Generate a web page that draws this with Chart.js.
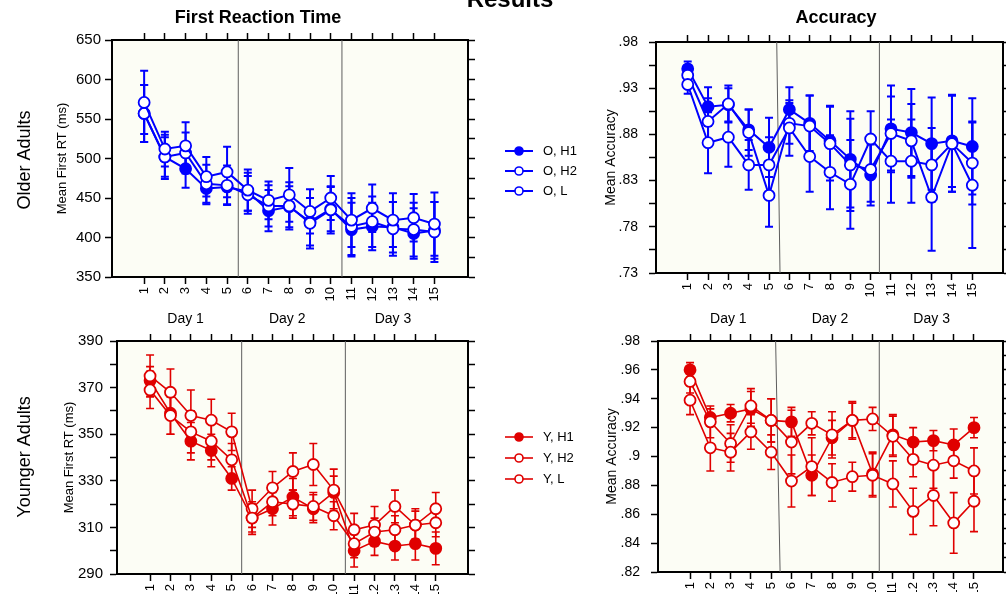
<!DOCTYPE html>
<html>
<head>
<meta charset="utf-8">
<script src="https://cdn.jsdelivr.net/npm/chart.js@4.4.1/dist/chart.umd.min.js"></script>
<style>
  html, body { margin: 0; padding: 0; background: #fff; overflow: hidden; }
  #wrap { position: relative; width: 1006px; height: 597px; }
  #wrap canvas { position: absolute; left: 0; top: 0; }
</style>
</head>
<body>
<div id="wrap">
  <canvas id="olderRt" width="1006" height="597"></canvas>
  <canvas id="olderAcc" width="1006" height="597"></canvas>
  <canvas id="youngerRt" width="1006" height="597"></canvas>
  <canvas id="youngerAcc" width="1006" height="597"></canvas>
</div>
<script>
/* ---- data ---- */
const sessions = [1, 2, 3, 4, 5, 6, 7, 8, 9, 10, 11, 12, 13, 14, 15];
const days = ['Day 1', 'Day 2', 'Day 3'];
const olderLabels = ['O, H1', 'O, H2', 'O, L'];
const youngerLabels = ['Y, H1', 'Y, H2', 'Y, L'];

// y-axis labelled ticks
const oRtTicks = [350, 400, 450, 500, 550, 600, 650];
const oAccTicks = [0.73, 0.78, 0.83, 0.88, 0.93, 0.98];
const yRtTicks = [290, 310, 330, 350, 370, 390];
const yAccTicks = [0.82, 0.84, 0.86, 0.88, 0.90, 0.92, 0.94, 0.96, 0.98];

// older adults, first RT (ms)
const oRtH1 = [557, 502, 487, 462, 464, 458, 434, 439, 420, 436, 410, 414, 413, 405, 409];
const oRtH2 = [557, 502, 507, 468, 466, 454, 440, 440, 418, 435, 414, 420, 411, 410, 407];
const oRtL = [571, 512, 516, 477, 483, 460, 447, 454, 433, 450, 422, 437, 422, 425, 417];
const oRtH1Err = [36, 25, 24, 20, 22, 24, 26, 26, 30, 28, 34, 30, 32, 32, 36];
const oRtH2Err = [36, 28, 26, 24, 25, 24, 26, 30, 32, 30, 36, 32, 34, 34, 38];
const oRtLErr = [40, 22, 30, 25, 32, 26, 24, 34, 28, 28, 34, 30, 34, 30, 40];

// older adults, accuracy
const oAccH1 = [0.951, 0.910, 0.912, 0.885, 0.866, 0.907, 0.892, 0.873, 0.853, 0.836, 0.886, 0.882, 0.870, 0.873, 0.867];
const oAccH2 = [0.944, 0.894, 0.913, 0.882, 0.814, 0.892, 0.889, 0.870, 0.847, 0.842, 0.881, 0.873, 0.812, 0.870, 0.849];
const oAccL = [0.934, 0.871, 0.877, 0.847, 0.847, 0.887, 0.856, 0.839, 0.826, 0.875, 0.851, 0.851, 0.847, 0.870, 0.825];
const oAccH1Err = [0.008, 0.021, 0.018, 0.022, 0.032, 0.024, 0.030, 0.038, 0.052, 0.033, 0.047, 0.047, 0.050, 0.050, 0.052];
const oAccH2Err = [0.010, 0.025, 0.020, 0.025, 0.034, 0.022, 0.033, 0.040, 0.050, 0.035, 0.040, 0.040, 0.058, 0.052, 0.045];
const oAccLErr = [0.010, 0.033, 0.032, 0.027, 0.030, 0.030, 0.038, 0.040, 0.048, 0.030, 0.045, 0.045, 0.040, 0.052, 0.068];

// younger adults, first RT (ms)
const yRtH1 = [373, 359, 347, 343, 331, 314, 318, 323, 318, 325, 300, 304, 302, 303, 301];
const yRtH2 = [375, 368, 358, 356, 351, 318, 327, 334, 337, 326, 309, 311, 319, 311, 318];
const yRtL = [369, 358, 351, 347, 339, 314, 321, 320, 319, 315, 303, 308, 309, 311, 312];
const yRtH1Err = [6, 9, 8, 7, 5, 7, 7, 8, 6, 7, 7, 6, 6, 7, 7];
const yRtH2Err = [9, 10, 11, 9, 8, 8, 7, 8, 9, 9, 7, 8, 7, 7, 7];
const yRtLErr = [8, 8, 9, 8, 7, 6, 6, 6, 6, 6, 6, 6, 6, 6, 6];

// younger adults, accuracy
const yAccH1 = [0.960, 0.927, 0.930, 0.933, 0.925, 0.924, 0.887, 0.913, 0.925, 0.888, 0.915, 0.910, 0.911, 0.908, 0.920];
const yAccH2 = [0.952, 0.924, 0.909, 0.935, 0.925, 0.910, 0.923, 0.915, 0.925, 0.926, 0.914, 0.898, 0.894, 0.897, 0.890];
const yAccL = [0.939, 0.906, 0.903, 0.917, 0.903, 0.883, 0.893, 0.882, 0.886, 0.887, 0.881, 0.862, 0.873, 0.854, 0.869];
const yAccH1Err = [0.005, 0.006, 0.006, 0.012, 0.015, 0.010, 0.014, 0.012, 0.012, 0.015, 0.014, 0.010, 0.007, 0.011, 0.007];
const yAccH2Err = [0.008, 0.011, 0.013, 0.012, 0.015, 0.022, 0.008, 0.016, 0.013, 0.008, 0.014, 0.012, 0.016, 0.012, 0.016];
const yAccLErr = [0.010, 0.016, 0.013, 0.012, 0.012, 0.018, 0.020, 0.013, 0.010, 0.015, 0.016, 0.016, 0.021, 0.021, 0.021];

/* ---- look ---- */
const FONT = '"Liberation Sans", Arial, Helvetica, sans-serif';
const BLUE = '#0000ff';
const RED = '#e00000';
const PLOT_BG = '#fcfdf5';
Chart.defaults.font.family = FONT;
Chart.defaults.color = '#000';

const fmtRt = v => String(v);
const fmtAcc = v => String(+v.toFixed(2)).replace(/^0/, '');

// labelled ticks plus an unlabelled one half way between each pair
function withMinor(majors) {
  const all = [];
  majors.forEach((v, i) => {
    all.push(v);
    if (i < majors.length - 1) all.push(+((v + majors[i + 1]) / 2).toFixed(4));
  });
  return all;
}

/* ---- plugins ---- */
const plotBg = {
  id: 'plotBg',
  beforeDraw(chart) {
    const { ctx, chartArea: a } = chart;
    ctx.save();
    ctx.fillStyle = PLOT_BG;
    ctx.fillRect(a.left, a.top, a.width, a.height);
    ctx.restore();
  }
};

const dividers = {
  id: 'dividers',
  beforeDatasetsDraw(chart, args, opts) {
    if (!opts.lines) return;
    const { ctx, chartArea: a, scales: { x } } = chart;
    ctx.save();
    ctx.strokeStyle = '#5e5e5e';
    ctx.lineWidth = 1;
    opts.lines.forEach(([top, bottom]) => {
      ctx.beginPath();
      ctx.moveTo(x.getPixelForValue(top), a.top);
      ctx.lineTo(x.getPixelForValue(bottom), a.bottom);
      ctx.stroke();
    });
    ctx.restore();
  }
};

const errorBars = {
  id: 'errorBars',
  beforeDatasetsDraw(chart) {
    const { ctx, scales: { x, y } } = chart;
    chart.data.datasets.forEach(ds => {
      ctx.save();
      ctx.strokeStyle = ds.borderColor;
      ctx.lineWidth = ds.borderWidth;
      ds.data.forEach((p, i) => {
        const px = x.getPixelForValue(p.x);
        const top = y.getPixelForValue(p.y + ds.errors[i]);
        const bot = y.getPixelForValue(p.y - ds.errors[i]);
        ctx.beginPath();
        ctx.moveTo(px, top); ctx.lineTo(px, bot);
        ctx.moveTo(px - 4, top); ctx.lineTo(px + 4, top);
        ctx.moveTo(px - 4, bot); ctx.lineTo(px + 4, bot);
        ctx.stroke();
      });
      ctx.restore();
    });
  }
};

const dayLabels = {
  id: 'dayLabels',
  afterDraw(chart, args, opts) {
    if (!opts.at) return;
    const { ctx, scales: { x } } = chart;
    ctx.save();
    ctx.font = '14px ' + FONT;
    ctx.fillStyle = '#000';
    ctx.textAlign = 'center';
    ctx.textBaseline = 'middle';
    days.forEach((d, i) => ctx.fillText(d, x.getPixelForValue(opts.at[i]), opts.y));
    ctx.restore();
  }
};

const sideLegend = {
  id: 'sideLegend',
  afterDraw(chart, args, opts) {
    if (!opts.x) return;
    const { ctx } = chart;
    ctx.save();
    chart.data.datasets.forEach((ds, i) => {
      const y = opts.y + i * opts.gap;
      ctx.strokeStyle = ds.borderColor;
      ctx.lineWidth = ds.borderWidth;
      ctx.beginPath();
      ctx.moveTo(opts.x, y); ctx.lineTo(opts.x + 28, y);
      ctx.stroke();
      ctx.beginPath();
      ctx.arc(opts.x + 14, y, 4, 0, Math.PI * 2);
      ctx.fillStyle = ds.pointBackgroundColor;
      ctx.fill();
      ctx.lineWidth = 1.6;
      ctx.stroke();
      ctx.fillStyle = '#000';
      ctx.font = '13px ' + FONT;
      ctx.textAlign = 'left';
      ctx.textBaseline = 'middle';
      ctx.fillText(ds.label, opts.x + 38, y);
    });
    ctx.restore();
  }
};

const pageText = {
  id: 'pageText',
  afterDraw(chart, args, opts) {
    if (!opts.items) return;
    const { ctx } = chart;
    opts.items.forEach(t => {
      ctx.save();
      ctx.font = t.font;
      ctx.fillStyle = '#000';
      ctx.translate(t.x, t.y);
      ctx.rotate(t.rot || 0);
      ctx.textAlign = 'center';
      ctx.textBaseline = t.base || 'middle';
      ctx.fillText(t.text, 0, 0);
      ctx.restore();
    });
  }
};

/* ---- one panel ---- */
function makePanel(id, o) {
  const yList = withMinor(o.yTicks);
  const isMajor = v => o.yTicks.some(m => Math.abs(m - v) < 1e-6);
  const grid = { drawOnChartArea: false, drawTicks: true, tickLength: 7, color: '#000', tickColor: '#000', tickWidth: 1.5 };
  const border = { display: true, color: '#000', width: 2 };
  const xTicks = s => { s.ticks = sessions.map(v => ({ value: v })); };
  const yTicks = s => { s.ticks = yList.map(v => ({ value: v })); };
  const rightW = Math.min(7, 1006 - o.area.right);
  const fills = [o.color, '#fff', '#fff'];

  return new Chart(document.getElementById(id), {
    type: 'line',
    data: {
      datasets: o.series.map((vals, k) => ({
        label: o.labels[k],
        data: sessions.map((s, i) => ({ x: s, y: vals[i] })),
        errors: o.errors[k],
        order: 3 - k,
        borderColor: o.color,
        borderWidth: o.lineWidth,
        pointRadius: 5.5,
        pointBorderWidth: 1.8,
        pointBackgroundColor: fills[k],
        pointBorderColor: o.color,
        tension: 0
      }))
    },
    options: {
      responsive: false,
      animation: false,
      events: [],
      layout: {
        autoPadding: false,
        padding: {
          left: o.area.left - o.yWidth,
          top: o.area.top - 7,
          right: 1006 - o.area.right - rightW,
          bottom: 597 - o.area.bottom - o.xHeight
        }
      },
      plugins: {
        legend: { display: false },
        tooltip: { enabled: false },
        dividers: { lines: o.dividers },
        dayLabels: o.days || {},
        sideLegend: o.legend || {},
        pageText: o.text || {}
      },
      scales: {
        x: {
          type: 'linear', position: 'bottom', min: o.xMin, max: o.xMax,
          afterBuildTicks: xTicks,
          afterFit: s => { s.height = o.xHeight; },
          ticks: { minRotation: 90, maxRotation: 90, autoSkip: false, padding: 3, font: { size: 13 }, color: '#000' },
          grid, border
        },
        xTop: {
          type: 'linear', position: 'top', min: o.xMin, max: o.xMax,
          afterBuildTicks: xTicks,
          afterFit: s => { s.height = 7; },
          ticks: { display: false },
          grid, border
        },
        y: {
          type: 'linear', position: 'left', min: o.yTicks[0], max: o.yTicks[o.yTicks.length - 1],
          afterBuildTicks: yTicks,
          afterFit: s => { s.width = o.yWidth; },
          ticks: { callback: v => (isMajor(v) ? o.fmt(v) : ''), padding: o.tickPad, font: { size: o.tickFont }, color: '#000' },
          title: { display: true, text: o.yTitle, padding: 0, font: { size: o.titleSize }, color: '#000' },
          grid, border
        },
        yRight: {
          type: 'linear', position: 'right', min: o.yTicks[0], max: o.yTicks[o.yTicks.length - 1],
          afterBuildTicks: yTicks,
          afterFit: s => { s.width = rightW; },
          ticks: { display: false },
          grid, border
        }
      }
    },
    plugins: [plotBg, dividers, errorBars, dayLabels, sideLegend, pageText]
  });
}

makePanel('olderRt', {
  area: { left: 112, right: 468, top: 40, bottom: 277 },
  xMin: -0.55, xMax: 16.62, xHeight: 40,
  yTicks: oRtTicks, fmt: fmtRt, yWidth: 57, tickPad: 4, tickFont: 15,
  yTitle: 'Mean First RT (ms)', titleSize: 13,
  color: BLUE, lineWidth: 2,
  labels: olderLabels,
  series: [oRtH1, oRtH2, oRtL], errors: [oRtH1Err, oRtH2Err, oRtLErr],
  dividers: [[5.54, 5.54], [10.54, 10.54]],
  days: { at: [3, 7.9, 13], y: 319 },
  legend: { x: 505, y: 151, gap: 20 },
  text: { items: [
    { text: 'Results', x: 510, y: 7, font: 'bold 24px ' + FONT, base: 'alphabetic' },
    { text: 'First Reaction Time', x: 258, y: 18, font: 'bold 18px ' + FONT },
    { text: 'Accuracy', x: 836, y: 18, font: 'bold 18px ' + FONT },
    { text: 'Older Adults', x: 25, y: 160, font: '18px ' + FONT, rot: -Math.PI / 2 },
    { text: 'Younger Adults', x: 25, y: 457, font: '18px ' + FONT, rot: -Math.PI / 2 }
  ] }
});

makePanel('olderAcc', {
  area: { left: 656, right: 1003, top: 42, bottom: 273 },
  xMin: -0.56, xMax: 16.51, xHeight: 40,
  yTicks: oAccTicks, fmt: fmtAcc, yWidth: 53, tickPad: 11, tickFont: 14,
  yTitle: 'Mean Accuracy', titleSize: 14,
  color: BLUE, lineWidth: 2,
  labels: olderLabels,
  series: [oAccH1, oAccH2, oAccL], errors: [oAccH1Err, oAccH2Err, oAccLErr],
  dividers: [[5.38, 5.54], [10.43, 10.43]],
  days: { at: [3, 8, 13], y: 319 }
});

makePanel('youngerRt', {
  area: { left: 117, right: 468, top: 341, bottom: 574 },
  xMin: -0.62, xMax: 16.58, xHeight: 20,
  yTicks: yRtTicks, fmt: fmtRt, yWidth: 55, tickPad: 7, tickFont: 15,
  yTitle: 'Mean First RT (ms)', titleSize: 13,
  color: RED, lineWidth: 1.6,
  labels: youngerLabels,
  series: [yRtH1, yRtH2, yRtL], errors: [yRtH1Err, yRtH2Err, yRtLErr],
  dividers: [[5.49, 5.49], [10.57, 10.57]],
  legend: { x: 505, y: 437, gap: 21 }
});

makePanel('youngerAcc', {
  area: { left: 658, right: 1003, top: 341, bottom: 572 },
  xMin: -0.58, xMax: 16.43, xHeight: 20,
  yTicks: yAccTicks, fmt: fmtAcc, yWidth: 54, tickPad: 11, tickFont: 14,
  yTitle: 'Mean Accuracy', titleSize: 14,
  color: RED, lineWidth: 1.6,
  labels: youngerLabels,
  series: [yAccH1, yAccH2, yAccL], errors: [yAccH1Err, yAccH2Err, yAccLErr],
  dividers: [[5.22, 5.44], [10.33, 10.33]]
});
</script>
</body>
</html>
